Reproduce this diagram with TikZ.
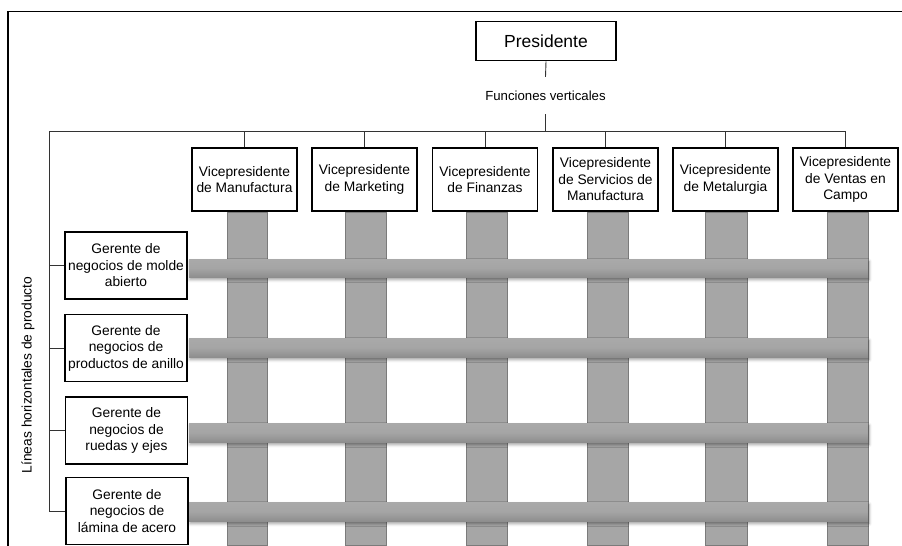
\documentclass[tikz,border=0pt]{standalone}
\usepackage{fontspec}
\setmainfont{Liberation Sans}
\usetikzlibrary{shadows.blur}

\definecolor{barfill}{HTML}{A6A6A6}
\definecolor{baredge}{HTML}{7B7B7B}
\definecolor{bartop}{HTML}{A9A9A9}
\definecolor{barmid}{HTML}{A5A5A5}
\definecolor{barbot}{HTML}{8E8E8E}

\begin{document}
\begin{tikzpicture}[x=1pt,y=-1pt,
  txt/.style={font=\fontsize{13.8}{16.5}\selectfont},
  box/.style={draw=black, line width=1.8pt, fill=white, align=center, inner sep=0pt, txt},
  presbox/.style={box, minimum width=140pt, minimum height=39pt, font=\fontsize{17.5}{20}\selectfont},
  vpbox/.style={box, minimum width=105pt, minimum height=63pt},
  gbox/.style={box, minimum width=122pt, minimum height=67pt},
  conn/.style={draw=black!80, line width=0.9pt},
  colbar/.style={fill=barfill, draw=baredge, line width=1pt},
  rowbar/.style={top color=bartop, bottom color=barbot, middle color=barmid,
    blur shadow={shadow xshift=1pt, shadow yshift=-2.5pt, shadow blur radius=3pt, shadow opacity=40}}
]
\useasboundingbox (0,0) rectangle (902,546);

% outer frame (top and left edges)
\draw[line width=1.8pt] (8,546) -- (8,11.5) -- (902,11.5);

% president and vertical functions label
\node[presbox] (pres) at (546,41) {Presidente};
\node[txt, font=\fontsize{13.2}{15}\selectfont, minimum height=37pt, inner sep=0pt] (fv) at (545.5,95.5) {Funciones verticales};

% vice presidents
\node[vpbox] (vp1) at (244.5,179.5) {Vicepresidente\\de Manufactura};
\node[vpbox] (vp2) at (364.5,179.5) {Vicepresidente\\de Marketing};
\node[vpbox] (vp3) at (485,179.5) {Vicepresidente\\de Finanzas};
\node[vpbox] (vp4) at (605.5,179.5) {Vicepresidente\\de Servicios de\\Manufactura};
\node[vpbox] (vp5) at (725.5,179.5) {Vicepresidente\\de Metalurgia};
\node[vpbox] (vp6) at (845.5,179.5) {Vicepresidente\\de Ventas en\\Campo};

% product managers
\node[gbox] (g1) at (126,265.5) {Gerente de\\negocios de molde\\abierto};
\node[gbox] (g2) at (126,348) {Gerente de\\negocios de\\productos de anillo};
\node[gbox] (g3) at (126.5,430.5) {Gerente de\\negocios de\\ruedas y ejes};
\node[gbox] (g4) at (127,511) {Gerente de\\negocios de\\lámina de acero};

% side label
\node[txt, rotate=90] (lh) at (28,375) {Líneas horizontales de producto};

% connectors
\coordinate (busL) at (49,131);
\draw[conn] (pres.south) -- (fv.north);
\draw[conn] (fv.south) -- (fv.south |- busL);
\draw[conn] (g4.west) -| (busL) -- (busL -| vp6.north) -- (vp6.north);
\foreach \v in {vp1,vp2,vp3,vp4,vp5}
  \draw[conn] (busL -| \v.north) -- (\v.north);
\foreach \g in {g1,g2,g3}
  \draw[conn] (\g.west) -- (\g.west -| busL);

% vertical function columns
\foreach \a/\b in {227/267, 345/386, 466/507, 587/628, 705/747, 827/868}
  \draw[colbar] (\a,212) rectangle (\b,545);

% horizontal product rows
\foreach \t/\u in {259/277, 338/357, 423/442, 502/521}
  \path[rowbar] (189,\t) rectangle (868,\u);
\end{tikzpicture}
\end{document}
